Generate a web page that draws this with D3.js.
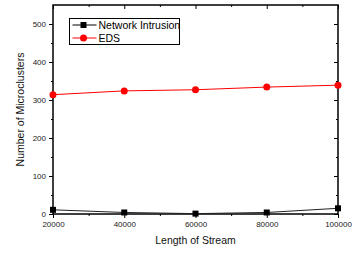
<!DOCTYPE html>
<html>
<head>
<meta charset="utf-8">
<script src="https://cdn.jsdelivr.net/npm/d3@7"></script>
<style>
  body { margin: 0; background: #fff; }
  text { font-family: "Liberation Sans", Arial, sans-serif; }
</style>
</head>
<body>
<div id="chart"></div>
<script>
var lengths = [20000, 40000, 60000, 80000, 100000];
var networkIntrusion = [11, 4, 1, 4, 15];
var eds = [314, 324, 327, 334, 339];
var yTicks = [0, 100, 200, 300, 400, 500];
var seriesNames = ["Network Intrusion", "EDS"];

function init() {
    var w = 352, h = 253;
    var margin = { top: 5, right: 14, bottom: 39, left: 53 };
    var iw = w - margin.left - margin.right;
    var ih = h - margin.top - margin.bottom;

    var svg = d3.select("#chart").append("svg")
        .attr("width", w).attr("height", h);
    var g = svg.append("g")
        .attr("transform", "translate(" + margin.left + "," + margin.top + ")");

    var x = d3.scaleLinear().domain([20000, 100000]).range([0, iw]);
    var y = d3.scaleLinear().domain([0, 550]).range([ih, 0]);

    // minor ticks
    var xMinor = d3.range(30000, 100000, 20000);
    var yMinor = d3.range(50, 550, 100);

    function tickStyle(sel) {
        sel.select(".domain").remove();
        sel.selectAll("line").attr("stroke", "#000");
        sel.selectAll("text").attr("font-size", "8px").attr("fill", "#222");
    }

    g.append("g").attr("transform", "translate(0," + ih + ")")
        .call(d3.axisBottom(x).tickValues(lengths).tickSize(4).tickFormat(d3.format("d")))
        .call(tickStyle);
    g.append("g").attr("transform", "translate(0," + ih + ")")
        .call(d3.axisBottom(x).tickValues(xMinor).tickSize(2).tickFormat(""))
        .call(tickStyle);
    g.append("g")
        .call(d3.axisLeft(y).tickValues(yTicks).tickSize(4))
        .call(tickStyle);
    g.append("g")
        .call(d3.axisLeft(y).tickValues(yMinor).tickSize(2).tickFormat(""))
        .call(tickStyle);
    // mirrored ticks top/right (inward)
    g.append("g")
        .call(d3.axisBottom(x).tickValues(lengths).tickSize(4).tickFormat(""))
        .call(tickStyle);
    g.append("g")
        .call(d3.axisBottom(x).tickValues(xMinor).tickSize(2).tickFormat(""))
        .call(tickStyle);
    g.append("g").attr("transform", "translate(" + iw + ",0)")
        .call(d3.axisLeft(y).tickValues(yTicks).tickSize(4).tickFormat(""))
        .call(tickStyle);
    g.append("g").attr("transform", "translate(" + iw + ",0)")
        .call(d3.axisLeft(y).tickValues(yMinor).tickSize(2).tickFormat(""))
        .call(tickStyle);

    g.append("rect")
        .attr("width", iw).attr("height", ih)
        .attr("fill", "none").attr("stroke", "#000").attr("stroke-width", 1.5);

    var line = d3.line()
        .x(function(d, i) { return x(lengths[i]); })
        .y(function(d) { return y(d); });

    // Network Intrusion
    g.append("path").datum(networkIntrusion)
        .attr("d", line).attr("fill", "none")
        .attr("stroke", "#222").attr("stroke-width", 1);
    g.selectAll(".sq").data(networkIntrusion).enter().append("rect")
        .attr("x", function(d, i) { return x(lengths[i]) - 3; })
        .attr("y", function(d) { return y(d) - 3; })
        .attr("width", 6).attr("height", 6).attr("fill", "#000");

    // EDS
    g.append("path").datum(eds)
        .attr("d", line).attr("fill", "none")
        .attr("stroke", "#ff0000").attr("stroke-width", 1);
    g.selectAll(".ci").data(eds).enter().append("circle")
        .attr("cx", function(d, i) { return x(lengths[i]); })
        .attr("cy", function(d) { return y(d); })
        .attr("r", 3.5).attr("fill", "#ff0000");

    // legend
    var lg = svg.append("g").attr("transform", "translate(69.5,18.5)");
    lg.append("rect").attr("width", 110).attr("height", 26)
        .attr("fill", "#fff").attr("stroke", "#000").attr("stroke-width", 1);
    var colors = ["#000", "#ff0000"];
    seriesNames.forEach(function(name, i) {
        var row = lg.append("g").attr("transform", "translate(0," + (6.5 + i * 13) + ")");
        row.append("line").attr("x1", 3).attr("x2", 27)
            .attr("stroke", colors[i]).attr("stroke-width", 1);
        if (i === 0) {
            row.append("rect").attr("x", 11).attr("y", -3).attr("width", 6).attr("height", 6).attr("fill", "#000");
        } else {
            row.append("circle").attr("cx", 14).attr("r", 3.5).attr("fill", "#ff0000");
        }
        row.append("text").attr("x", 29).attr("dy", "0.35em")
            .attr("font-size", "10.5px").attr("fill", "#000").text(name);
    });

    // axis titles
    svg.append("text")
        .attr("x", margin.left + iw / 2).attr("y", 244)
        .attr("text-anchor", "middle").attr("font-size", "10.5px").attr("fill", "#111")
        .text("Length of Stream");
    svg.append("text")
        .attr("transform", "translate(24," + (margin.top + ih / 2) + ") rotate(-90)")
        .attr("text-anchor", "middle").attr("font-size", "10.5px").attr("fill", "#111")
        .text("Number of Microclusters");
}

window.onload = init;
</script>
</body>
</html>
